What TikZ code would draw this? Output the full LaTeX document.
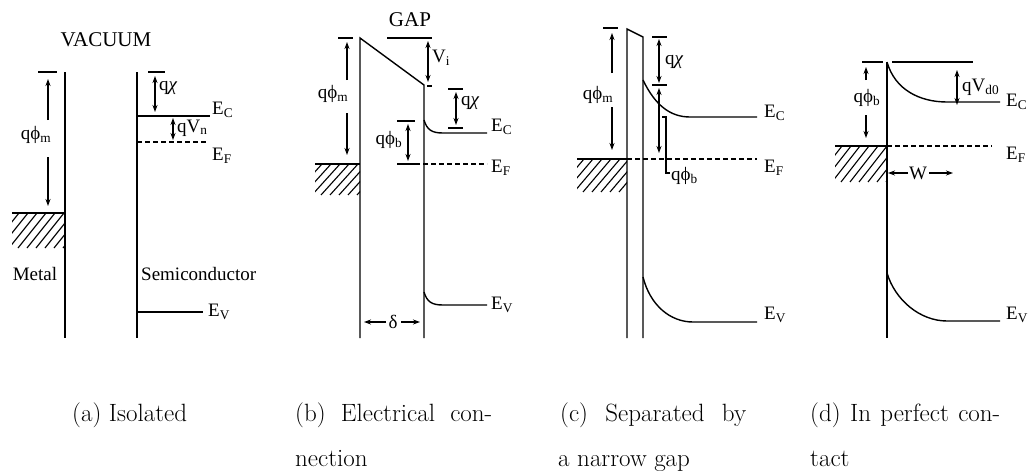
\documentclass[tikz,border=0pt]{standalone}
\usepackage{fontspec}
\newfontfamily\lblfont{Liberation Serif}
\usetikzlibrary{arrows.meta}

% hatched metal below the Fermi level: x1, y-top, x2, y-bottom
\newcommand{\hatchbox}[4]{%
  \begin{scope}
    \clip (#1,#2) rectangle (#3,#4);
    \foreach \hx in {0,9,...,90}
      \draw[line width=1.1pt] ({#1+\hx-30},#4) -- ({#1+\hx-30+28},#2);
  \end{scope}}

\begin{document}
\begin{tikzpicture}[x=1pt,y=-1pt,
  band/.style={line width=1.4pt},
  fermi/.style={line width=1.2pt, dash pattern=on 5pt off 3pt},
  dim/.style={line width=1.1pt, {Stealth[length=7pt,width=5pt]}-{Stealth[length=7pt,width=5pt]}},
  onedim/.style={line width=1.1pt, -{Stealth[length=7pt,width=5pt]}},
  lbl/.style={font=\lblfont\fontsize{19}{21}\selectfont, inner sep=1pt},
  big/.style={font=\lblfont\fontsize{21}{23}\selectfont, inner sep=1pt},
  capt/.style={font=\fontsize{25}{28}\selectfont, anchor=base west, inner sep=0pt}]
\useasboundingbox (0,0) rectangle (1029,471);

% (a) isolated
\node[big] (vac) at (106,40) {VACUUM};
\draw[band] (38,72) -- (57,72);
\draw[band] (65,72) -- (65,338);
\draw[band] (12,213) -- (65,213);
\hatchbox{12}{213}{65}{248}
\node[lbl] (phima) at (36,135) {qϕ\textsubscript{m}};
\draw[onedim] (48,120) -- (48,79);
\draw[onedim] (48,157) -- (48,206);
\node[lbl] (metal) at (35,274) {Metal};
\draw[band] (137,72) -- (137,338);
\draw[band] (148,72) -- (165,72);
\draw[dim] (155,76) -- (155,112);
\node[lbl, anchor=west] (chia) at (158,88) {q{\itshape χ}};
\draw[band] (137,116) -- (210,116);
\node[lbl, anchor=west] (eca) at (211,110) {E\textsubscript{C}};
\draw[dim] (173,118) -- (173,140);
\node[lbl, anchor=west] (vna) at (176,128) {qV\textsubscript{n}};
\draw[fermi] (137,142) -- (207,142);
\node[lbl, anchor=west] (efa) at (211,156) {E\textsubscript{F}};
\node[lbl, anchor=west] (semi) at (140,274) {Semiconductor};
\draw[band] (137,312) -- (203,312);
\node[lbl, anchor=west] (eva) at (207,312) {E\textsubscript{V}};

% (b) electrical connection
\node[big] (gap) at (410,20) {GAP};
\draw[band] (338,38) -- (353,38);
\draw[band] (360,338) -- (360,38) -- (424,85) -- (424,338);
\draw[band] (387,38) -- (432,38);
\draw[dim] (428,41) -- (428,82);
\node[lbl, anchor=west] (vib) at (431,58) {V\textsubscript{i}};
\draw[band] (427,86) -- (432,86);
\node[lbl] (phimb) at (333,94) {qϕ\textsubscript{m}};
\draw[onedim] (347,80) -- (347,42);
\draw[onedim] (347,113) -- (347,155);
\draw[band] (315,164) -- (360,164);
\hatchbox{315}{164}{360}{195}
\draw[band] (448,89) -- (463,89);
\draw[band] (448,128) -- (463,128);
\draw[dim] (456,92) -- (456,125);
\node[lbl, anchor=west] (chib) at (460,103) {q{\itshape χ}};
\draw[band] (424,120) .. controls (427,130) and (432,133) .. (443,133) -- (487,133);
\node[lbl, anchor=west] (ecb) at (490,127) {E\textsubscript{C}};
\draw[band] (397,121) -- (415,121);
\draw[band] (397,164) -- (415,164);
\draw[dim] (408,124) -- (408,161);
\node[lbl] (phibb) at (389,140) {qϕ\textsubscript{b}};
\draw[fermi] (415,164) -- (487,164);
\node[lbl, anchor=west] (efb) at (490,168) {E\textsubscript{F}};
\draw[band] (424,292) .. controls (427,302) and (432,305) .. (443,305) -- (487,305);
\node[lbl, anchor=west] (evb) at (490,305) {E\textsubscript{V}};
\node[lbl] (delta) at (393,322) {δ};
\draw[onedim] (386,322) -- (364,322);
\draw[onedim] (401,322) -- (420,322);

% (c) separated by a narrow gap
\draw[band] (603,28) -- (618,28);
\draw[band] (627,338) -- (627,29) -- (643,37) -- (643,338);
\node[lbl] (phimc) at (598,95) {qϕ\textsubscript{m}};
\draw[onedim] (612,73) -- (612,33);
\draw[onedim] (612,107) -- (612,150);
\draw[band] (577,159) -- (627,159);
\hatchbox{577}{159}{627}{192}
\draw[fermi] (627,159) -- (757,159);
\node[lbl, anchor=west] (efc) at (763,168) {E\textsubscript{F}};
\draw[band] (652,37) -- (667,37);
\draw[band] (652,85) -- (667,85);
\draw[dim] (659,39) -- (659,83);
\node[lbl, anchor=west] (chic) at (664,62) {q{\itshape χ}};
\draw[band] (643,80) .. controls (655,105) and (670,117) .. (690,117) -- (757,117);
\node[lbl, anchor=west] (ecc) at (763,113) {E\textsubscript{C}};
\draw[dim] (659,88) -- (659,153);
\draw[line width=1.1pt] (662,117) -- (666,117) -- (666,173) -- (670,173);
\node[lbl, anchor=west] (phibc) at (670,176) {qϕ\textsubscript{b}};
\draw[band] (643,277) .. controls (650,305) and (670,322) .. (693,322) -- (757,322);
\node[lbl, anchor=west] (evc) at (763,315) {E\textsubscript{V}};

% (d) in perfect contact
\draw[band] (862,62) -- (883,62);
\draw[band] (892,62) -- (973,62);
\draw[band] (887,62) -- (887,338);
\draw[band] (887,62) .. controls (895,90) and (920,102) .. (947,102) -- (1000,102);
\node[lbl, anchor=west] (ecd) at (1005,102) {E\textsubscript{C}};
\draw[dim] (957,70) -- (957,105);
\node[lbl, anchor=west] (vdd) at (961,87) {qV\textsubscript{d0}};
\node[lbl] (phibd) at (867,98) {qϕ\textsubscript{b}};
\draw[onedim] (866,80) -- (866,67);
\draw[onedim] (866,115) -- (866,138);
\draw[band] (835,146) -- (887,146);
\hatchbox{835}{146}{887}{182}
\draw[fermi] (887,146) -- (992,146);
\node[lbl, anchor=west] (efd) at (1005,155) {E\textsubscript{F}};
\node[lbl] (wd) at (918,173) {W};
\draw[onedim] (908,173) -- (888,173);
\draw[onedim] (929,173) -- (953,173);
\draw[band] (887,273) .. controls (895,300) and (920,321) .. (947,321) -- (1000,321);
\node[lbl, anchor=west] (evd) at (1005,315) {E\textsubscript{V}};

% captions
\node[capt] (capa) at (72,421) {(a) Isolated};
\node[capt] (capb1) at (295,421) {\makebox[197pt][s]{(b) Electrical con-}};
\node[capt] (capb2) at (295,466) {nection};
\node[capt] (capc1) at (560,421) {\makebox[186pt][s]{(c) Separated by}};
\node[capt] (capc2) at (558,466) {a narrow gap};
\node[capt] (capd1) at (810,421) {\makebox[190pt][s]{(d) In perfect con-}};
\node[capt] (capd2) at (810,466) {tact};
\end{tikzpicture}
\end{document}
